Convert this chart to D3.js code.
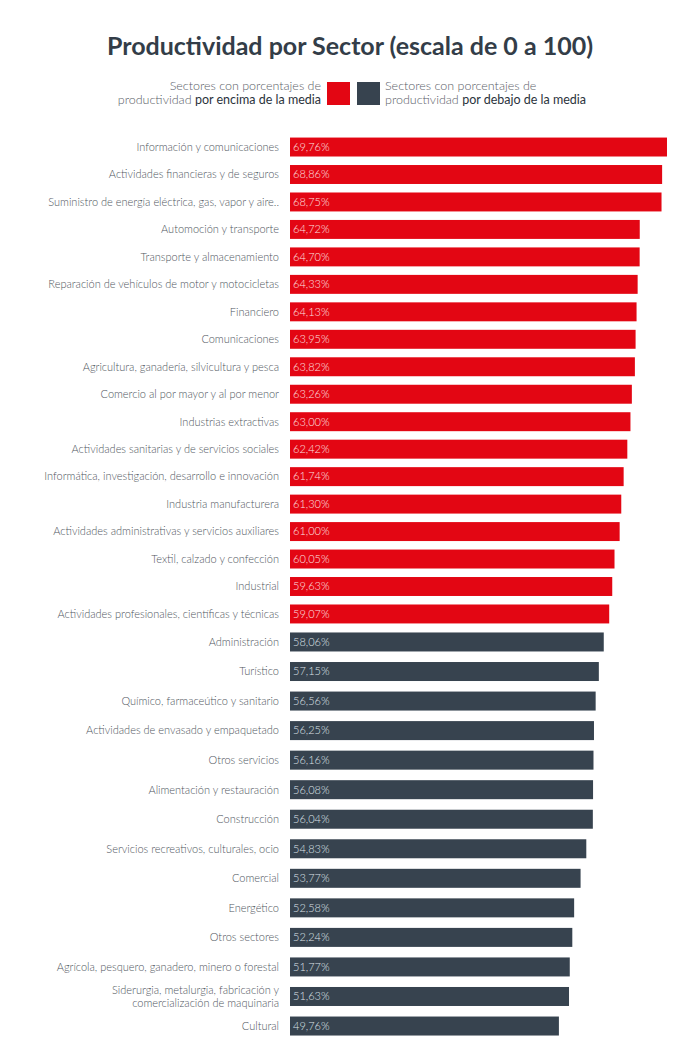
<!DOCTYPE html>
<html>
<head>
<meta charset="utf-8">
<script src="https://cdn.jsdelivr.net/npm/d3@7"></script>
<style>
  body { margin: 0; background: #fff; }
  svg text { font-family: Lato, "Open Sans", sans-serif; }
</style>
</head>
<body>
<div id="chart"></div>
<script>
// sectors above the mean (red) and below the mean (dark)
const aboveSectors = [
  "Información y comunicaciones",
  "Actividades financieras y de seguros",
  "Suministro de energía eléctrica, gas, vapor y aire..",
  "Automoción y transporte",
  "Transporte y almacenamiento",
  "Reparación de vehículos de motor y motocicletas",
  "Financiero",
  "Comunicaciones",
  "Agricultura, ganadería, silvicultura y pesca",
  "Comercio al por mayor y al por menor",
  "Industrias extractivas",
  "Actividades sanitarias y de servicios sociales",
  "Informática, investigación, desarrollo e innovación",
  "Industria manufacturera",
  "Actividades administrativas y servicios auxiliares",
  "Textil, calzado y confección",
  "Industrial",
  "Actividades profesionales, científicas y técnicas"
];
const aboveValues = [69.76, 68.86, 68.75, 64.72, 64.70, 64.33, 64.13, 63.95, 63.82,
  63.26, 63.00, 62.42, 61.74, 61.30, 61.00, 60.05, 59.63, 59.07];

const belowSectors = [
  "Administración",
  "Turístico",
  "Químico, farmaceútico y sanitario",
  "Actividades de envasado y empaquetado",
  "Otros servicios",
  "Alimentación y restauración",
  "Construcción",
  "Servicios recreativos, culturales, ocio",
  "Comercial",
  "Energético",
  "Otros sectores",
  "Agrícola, pesquero, ganadero, minero o forestal",
  "Siderurgia, metalurgia, fabricación y\ncomercialización de maquinaria",
  "Cultural"
];
const belowValues = [58.06, 57.15, 56.56, 56.25, 56.16, 56.08, 56.04, 54.83, 53.77,
  52.58, 52.24, 51.77, 51.63, 49.76];

const width = 700, height = 1061;
const RED = "#e30613", DARK = "#37434f";

const fmt = d3.formatLocale({decimal: ",", thousands: ".", grouping: [3], currency: ["", "€"]}).format(".2f");

let svg = d3.select("#chart")
  .append("svg")
  .attr("width", width)
  .attr("height", height);

svg.append("text")
  .attr("x", width / 2)
  .attr("y", 55)
  .attr("text-anchor", "middle")
  .style("font-size", "25px")
  .style("font-weight", "bold")
  .attr("fill", "#333d48")
  .text("Productividad por Sector (escala de 0 a 100)");

// legend
let legend = svg.append("g");
legend.append("rect").attr("x", 327).attr("y", 82).attr("width", 23).attr("height", 23).attr("fill", RED);
legend.append("rect").attr("x", 357).attr("y", 82).attr("width", 23).attr("height", 23).attr("fill", DARK);

function legendText(x, anchor, boldPart) {
  let t = legend.append("text")
    .attr("x", x)
    .attr("text-anchor", anchor)
    .style("font-size", "12.5px")
    .attr("fill", "#5a6068");
  t.append("tspan").attr("x", x).attr("y", 90).style("font-weight", 300)
    .text("Sectores con porcentajes de");
  t.append("tspan").attr("x", x).attr("y", 104).style("font-weight", 300)
    .text("productividad ");
  t.append("tspan").attr("fill", "#2b333c").style("font-weight", 400).text(boldPart);
}
legendText(321, "end", "por encima de la media");
legendText(385, "start", "por debajo de la media");

let x = d3.scaleLinear()
  .domain([0, 100])
  .range([290, 830.4]);

function drawGroup(sectors, values, color, textColor, y0, y1, pad) {
  let data = sectors.map((s, i) => ({sector: s, value: values[i]}));
  let y = d3.scaleBand()
    .domain(sectors)
    .range([y0, y1])
    .paddingInner(pad)
    .paddingOuter(pad / 2);

  let g = svg.append("g");

  g.selectAll("rect").data(data).enter()
    .append("rect")
    .attr("x", x(0))
    .attr("y", d => y(d.sector))
    .attr("width", d => x(d.value) - x(0))
    .attr("height", y.bandwidth())
    .attr("fill", color);

  g.selectAll(".val").data(data).enter()
    .append("text")
    .attr("class", "val")
    .attr("x", x(0) + 3)
    .attr("y", d => y(d.sector) + y.bandwidth() / 2)
    .attr("dy", "0.35em")
    .style("font-size", "11px")
    .style("font-weight", 300)
    .attr("fill", textColor)
    .text(d => fmt(d.value) + "%");

  let labels = g.selectAll(".lab").data(data).enter()
    .append("text")
    .attr("class", "lab")
    .attr("text-anchor", "end")
    .style("font-size", "11px")
    .style("font-weight", 300)
    .attr("fill", "#50565e");

  labels.each(function(d) {
    let lines = d.sector.split("\n");
    let cy = y(d.sector) + y.bandwidth() / 2;
    let start = cy - (lines.length - 1) * 6.5;
    lines.forEach((line, i) => {
      d3.select(this).append("tspan")
        .attr("x", 279)
        .attr("y", start + i * 13)
        .attr("dy", "0.35em")
        .text(line);
    });
  });
}

drawGroup(aboveSectors, aboveValues, RED, "#fde0e0", 133.3, 627.7, 0.31);
drawGroup(belowSectors, belowValues, DARK, "#dde2e7", 627.2, 1040.8, 0.357);
</script>
</body>
</html>
